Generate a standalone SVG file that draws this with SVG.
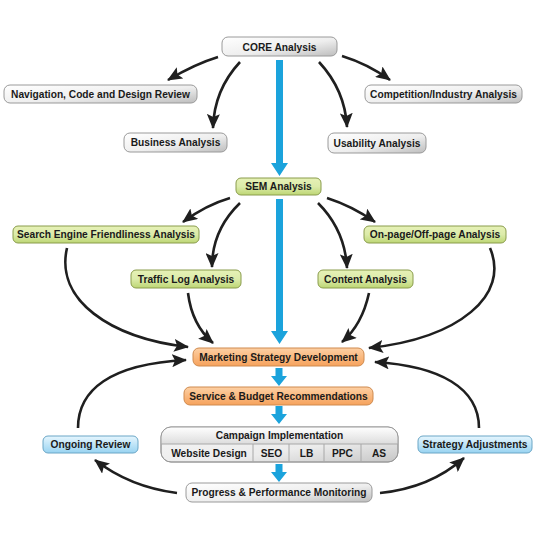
<svg xmlns="http://www.w3.org/2000/svg" width="534" height="544" viewBox="0 0 534 544">
<style>
text{font-family:"Liberation Sans",Arial,sans-serif;font-weight:bold;font-size:10.2px;fill:#1a1a1a;text-anchor:middle}
.gray{fill:url(#gGray);stroke:#9a9a9a;stroke-width:1}
.green{fill:url(#gGreen);stroke:#8a9c4c;stroke-width:1}
.orange{fill:url(#gOrange);stroke:#cf8a4e;stroke-width:1}
.blue{fill:url(#gBlue);stroke:#6aa6c6;stroke-width:1}
.conn path{fill:none;stroke:#1f1f1f;stroke-width:2.6;marker-end:url(#ah)}
.flow{fill:#1ba3dc}
.div{stroke:#a8a8a8;stroke-width:1;fill:none}
</style>
<defs>
<linearGradient id="gGray" x1="0" y1="0" x2="1" y2="1"><stop offset="0" stop-color="#ffffff"/><stop offset="0.55" stop-color="#eeeeee"/><stop offset="1" stop-color="#bdbdbd"/></linearGradient>
<linearGradient id="gGreen" x1="0" y1="0" x2="0" y2="1"><stop offset="0" stop-color="#e6f1b6"/><stop offset="0.5" stop-color="#dcebaa"/><stop offset="1" stop-color="#bdd674"/></linearGradient>
<linearGradient id="gOrange" x1="0" y1="0" x2="0" y2="1"><stop offset="0" stop-color="#fdd0a4"/><stop offset="1" stop-color="#f6a25c"/></linearGradient>
<linearGradient id="gBlue" x1="0" y1="0" x2="0" y2="1"><stop offset="0" stop-color="#e6f6fe"/><stop offset="1" stop-color="#98d3f1"/></linearGradient>
<linearGradient id="gHead" x1="0" y1="0" x2="0" y2="1"><stop offset="0" stop-color="#ffffff"/><stop offset="1" stop-color="#dcdcdc"/></linearGradient>
<linearGradient id="gRow" x1="0" y1="0" x2="1" y2="1"><stop offset="0" stop-color="#f6f6f6"/><stop offset="0.6" stop-color="#ececec"/><stop offset="1" stop-color="#c6c6c6"/></linearGradient>
<marker id="ah" markerUnits="userSpaceOnUse" markerWidth="15" markerHeight="13" refX="14" refY="6.5" orient="auto" viewBox="0 0 15 13"><path d="M0,0 L15,6.5 L0,13 L3,6.5 Z" fill="#1f1f1f"/></marker>
<path id="sba" d="M-3.5,0 H3.5 V8 H8 L0,18 L-8,8 H-3.5 Z"/>
</defs>
<rect width="534" height="544" fill="#ffffff"/>

<g id="flow-arrows" class="flow">
<path d="M276,60 H283 V163 H288 L279.5,176 L271,163 H276 Z"/>
<path d="M276,199 H283 V331 H288 L279.5,344 L271,331 H276 Z"/>
<use href="#sba" x="279" y="368"/>
<use href="#sba" x="279" y="406"/>
<use href="#sba" x="279" y="464"/>
</g>

<g id="connectors" class="conn">
<path d="M218,57 Q195,64 168,80"/>
<path d="M240,62 Q214,90 213,128"/>
<path d="M342,56 Q368,64 390,80"/>
<path d="M319,62 Q345,90 347,127"/>
<path d="M230,198 Q206,205 183,222"/>
<path d="M240,203 Q212,230 212,267"/>
<path d="M327,198 Q352,206 375,222"/>
<path d="M318,203 Q345,230 347,268"/>
<path d="M67,248 C55,300 110,338 188,347"/>
<path d="M188,293 Q192,325 213,343"/>
<path d="M369,293 Q362,325 342,342"/>
<path d="M490,248 C510,295 460,338 369,348"/>
<path d="M78,428 C78,390 110,364 186,360"/>
<path d="M479,428 C479,388 440,366 375,362"/>
<path d="M177,493 Q130,487 95,460"/>
<path d="M380,493 Q430,488 464,458"/>
</g>

<g id="core"><rect class="gray" x="222" y="37" width="115" height="19" rx="6"/><text x="279.5" y="50.5">CORE Analysis</text></g>
<g id="nav"><rect class="gray" x="4" y="85" width="193" height="18" rx="6"/><text x="100.5" y="97.5">Navigation, Code and Design Review</text></g>
<g id="competition"><rect class="gray" x="365" y="85" width="157" height="18" rx="6"/><text x="443.5" y="97.5">Competition/Industry Analysis</text></g>
<g id="business"><rect class="gray" x="124" y="133" width="103" height="19" rx="6"/><text x="175.5" y="146">Business Analysis</text></g>
<g id="usability"><rect class="gray" x="328" y="133" width="98" height="20" rx="6"/><text x="377" y="146.5">Usability Analysis</text></g>

<g id="sem"><rect class="green" x="236" y="178" width="85" height="17" rx="5"/><text x="278.5" y="190">SEM Analysis</text></g>
<g id="search-engine"><rect class="green" x="13" y="226" width="186" height="17" rx="5"/><text x="106" y="238">Search Engine Friendliness Analysis</text></g>
<g id="onpage"><rect class="green" x="364" y="226" width="142" height="17" rx="5"/><text x="435" y="238">On-page/Off-page Analysis</text></g>
<g id="traffic"><rect class="green" x="131" y="270" width="110" height="18" rx="5"/><text x="186" y="282.5">Traffic Log Analysis</text></g>
<g id="content"><rect class="green" x="318" y="270" width="95" height="18" rx="5"/><text x="365.5" y="282.5">Content Analysis</text></g>

<g id="marketing"><rect class="orange" x="193" y="348" width="171" height="18" rx="6"/><text x="278.5" y="360.5">Marketing Strategy Development</text></g>
<g id="service"><rect class="orange" x="184" y="387" width="189" height="18" rx="6"/><text x="278.5" y="399.5">Service &amp; Budget Recommendations</text></g>

<g id="campaign">
<rect x="161" y="427" width="237" height="35" rx="10" fill="url(#gRow)" stroke="#9a9a9a"/>
<path d="M171,427 H388 A10,10 0 0 1 398,437 V444 H161 V437 A10,10 0 0 1 171,427 Z" fill="url(#gHead)" stroke="none"/>
<rect x="161" y="427" width="237" height="35" rx="10" fill="none" stroke="#9a9a9a"/>
<path class="div" d="M161,444 H398 M253,444 V462 M289,444 V462 M324,444 V462 M361,444 V462"/>
<text x="279.5" y="439">Campaign Implementation</text>
<text x="209" y="457">Website Design</text>
<text x="271.5" y="457">SEO</text>
<text x="306.5" y="457">LB</text>
<text x="342.5" y="457">PPC</text>
<text x="379" y="457">AS</text>
</g>

<g id="progress"><rect class="gray" x="186" y="483" width="186" height="19" rx="6"/><text x="279" y="496">Progress &amp; Performance Monitoring</text></g>
<g id="ongoing"><rect class="blue" x="43" y="436" width="95" height="17" rx="5"/><text x="90.5" y="448">Ongoing Review</text></g>
<g id="adjustments"><rect class="blue" x="418" y="436" width="114" height="17" rx="5"/><text x="475" y="448">Strategy Adjustments</text></g>
</svg>
